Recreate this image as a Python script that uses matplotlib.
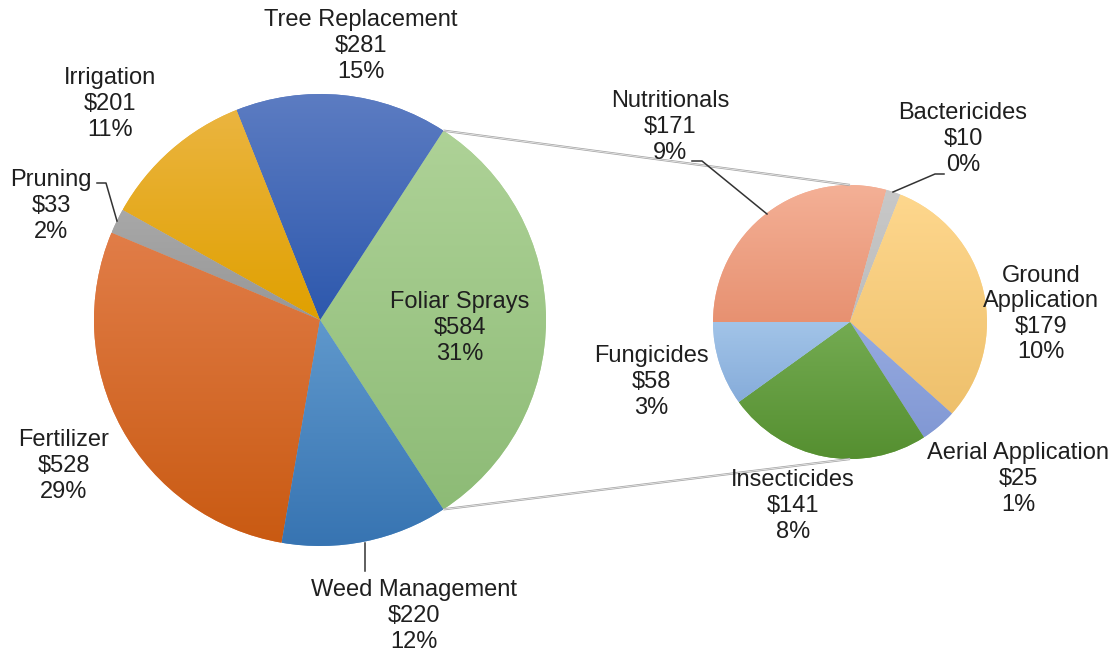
import matplotlib
matplotlib.use('Agg')
import matplotlib.pyplot as plt
import numpy as np
from matplotlib.colors import LinearSegmentedColormap

plt.rcParams['font.family'] = ['Liberation Sans', 'DejaVu Sans']

# main pie (all spending)
main_names = ['Foliar Sprays', 'Tree Replacement', 'Irrigation', 'Pruning', 'Fertilizer', 'Weed Management']
main_values = [584, 281, 201, 33, 528, 220]
main_pcts = ['31%', '15%', '11%', '2%', '29%', '12%']

# secondary pie (breakdown of foliar sprays)
sub_names = ['Nutritionals', 'Bactericides', 'Ground\nApplication', 'Aerial Application', 'Insecticides', 'Fungicides']
sub_values = [171, 10, 179, 25, 141, 58]
sub_pcts = ['9%', '0%', '10%', '1%', '8%', '3%']

# (top colour, bottom colour) for the gradient fills
main_colors = [('#aed297', '#8dbb76'), ('#5c7cc2', '#2d58ad'), ('#ebb540', '#e0a000'),
               ('#a8a8a8', '#979797'), ('#e17d48', '#c95a12'), ('#5f98cc', '#3774b2')]
sub_colors = [('#f4b096', '#e79171'), ('#c8c8c8', '#bdbdbd'), ('#fed78d', '#eec06c'),
              ('#97abe0', '#8198d4'), ('#74ab52', '#558f30'), ('#a2c4e8', '#86acda')]

# label anchor points (image pixels, y down)
main_label_pos = [(460, 328), (361, 46), (110, 104), (51, 206), (64, 466), (414, 616)]
sub_label_pos = [(670, 127), (963, 139), (1041, 314), (1018, 479), (793, 506), (651, 382)]

W, H = 1117, 657
fig = plt.figure(figsize=(W / 100, H / 100), dpi=100)
ax = fig.add_axes([0, 0, 1, 1])


def Y(y):
    return H - y


def shade(wedge, top, bottom):
    bb = wedge.get_path().get_extents()
    cmap = LinearSegmentedColormap.from_list('g', [bottom, top])
    grad = np.linspace(0, 1, 256).reshape(-1, 1)
    im = ax.imshow(grad, extent=(bb.x0, bb.x1, bb.y0, bb.y1), origin='lower',
                   cmap=cmap, aspect='auto', zorder=1.5, interpolation='bilinear')
    im.set_clip_path(wedge)


main_c = (320, Y(320))
main_r = 226
sub_c = (850, Y(322))
sub_r = 137

half = 0.5 * main_values[0] / sum(main_values) * 360
wedges, _ = ax.pie(main_values, center=main_c, radius=main_r, startangle=-half,
                   counterclock=True, colors=[c[0] for c in main_colors],
                   wedgeprops=dict(linewidth=0), frame=True)
for w, (t, b) in zip(wedges, main_colors):
    shade(w, t, b)

swedges, _ = ax.pie(sub_values, center=sub_c, radius=sub_r, startangle=180,
                    counterclock=False, colors=[c[0] for c in sub_colors],
                    wedgeprops=dict(linewidth=0), frame=True)
for w, (t, b) in zip(swedges, sub_colors):
    shade(w, t, b)

# connector lines between the pies
a = np.radians(half)
for s in (1, -1):
    p0 = (main_c[0] + main_r * np.cos(a), main_c[1] + s * main_r * np.sin(a))
    p1 = (sub_c[0], sub_c[1] + s * sub_r)
    ax.plot([p0[0], p1[0]], [p0[1], p1[1]], color='#a6a6a6', lw=1.6, zorder=3,
            solid_capstyle='butt')
    ax.plot([p0[0], p1[0]], [p0[1], p1[1]], color='#f2f2f2', lw=0.5, zorder=3.1)

tc = '#1f1f1f'
fs = 17
for name, v, p, (x, y) in zip(main_names, main_values, main_pcts, main_label_pos):
    ax.text(x, Y(y), f'{name}\n${v}\n{p}', ha='center', va='center', fontsize=fs,
            color=tc, linespacing=1.21, zorder=5)
for name, v, p, (x, y) in zip(sub_names, sub_values, sub_pcts, sub_label_pos):
    ax.text(x, Y(y), f'{name}\n${v}\n{p}', ha='center', va='center', fontsize=fs,
            color=tc, linespacing=1.21, zorder=5)

# leader lines
leaders = [[(97, 183), (106, 183), (117, 221)],
           [(365, 543), (365, 571)],
           [(692, 161), (702, 161), (767, 214)],
           [(944, 174), (935, 174), (893, 192)]]
for pts in leaders:
    xs = [p[0] for p in pts]
    ys = [Y(p[1]) for p in pts]
    ax.plot(xs, ys, color='#333333', lw=1.1, zorder=4)

ax.set_xlim(0, W)
ax.set_ylim(0, H)
ax.set_aspect('equal')
ax.axis('off')

fig.savefig('out.png', dpi=100, facecolor='white')
